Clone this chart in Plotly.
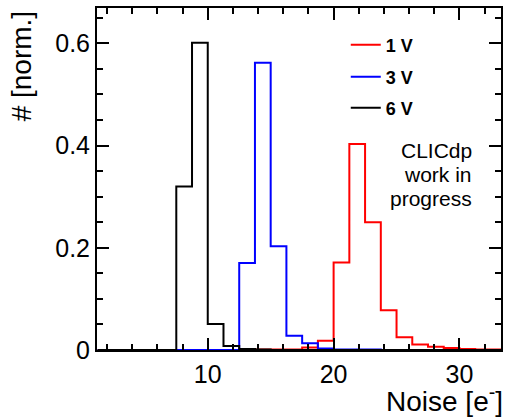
import plotly.graph_objects as go

bin_width = 1.25
bin_start = 1.25
n_bins = 26

noise_1v = [0, 0, 0, 0, 0, 0, 0, 0, 0, 0.001, 0.001, 0.001, 0.001, 0.005, 0.018,
            0.171, 0.403, 0.25, 0.078, 0.025, 0.011, 0.0065, 0.004, 0.002, 0.001, 0.001]
noise_3v = [0, 0, 0, 0, 0, 0, 0, 0, 0, 0.17, 0.562, 0.203, 0.028, 0.013, 0.003,
            0.001, 0.001, 0.001, 0, 0, 0, 0, 0, 0, 0, 0]
noise_6v = [0, 0, 0, 0, 0, 0.32, 0.601, 0.051, 0.008, 0.002, 0.001, 0, 0, 0, 0,
            0, 0, 0, 0, 0, 0, 0, 0, 0, 0, 0]

series = [("1 V", noise_1v, "#ff0000", "legend"),
          ("3 V", noise_3v, "#0000ff", "legend2"),
          ("6 V", noise_6v, "#000000", "legend3")]

label_lines = ["CLICdp", "work in", "progress"]

edges = [bin_start + bin_width * k for k in range(n_bins + 1)]

FONT = "Liberation Sans, Arial, Helvetica, sans-serif"

fig = go.Figure()
for name, vals, col, leg in series:
    fig.add_trace(go.Scatter(
        x=edges, y=list(vals) + [vals[-1]], mode="lines", name=name,
        line=dict(color=col, width=2, shape="hv"), legend=leg, showlegend=True))

W, H = 508, 417
ml, mr, mt, mb = 97, 5, 8, 67
pw = W - ml - mr
ph = H - mt - mb

def py2paper(py):
    return 1 - (py - mt) / ph

def px2paper(px):
    return (px - ml) / pw

legfont = dict(family=FONT, size=18, color="black", weight="bold")
common_leg = dict(xanchor="left", yanchor="middle", bgcolor="rgba(0,0,0,0)",
                  font=legfont, itemwidth=30, borderwidth=0)
lx = px2paper(347)

annotations = [
    dict(text="# [norm.]", textangle=-90, xref="paper", yref="paper",
         x=px2paper(22), y=py2paper(9), xanchor="center", yanchor="top",
         showarrow=False, font=dict(size=28, family=FONT)),
    dict(text="Noise [e<sup>-</sup>]", xref="paper", yref="paper",
         x=px2paper(507), y=py2paper(399), xanchor="right", yanchor="middle",
         showarrow=False, font=dict(size=28, family=FONT)),
]
for i, (t, yc) in enumerate(zip(label_lines, [150, 174, 198])):
    annotations.append(dict(text=t, xref="paper", yref="paper",
                            x=px2paper(476), y=py2paper(yc), xanchor="right",
                            yanchor="middle", showarrow=False,
                            font=dict(size=21, family=FONT)))

fig.update_layout(
    width=W, height=H,
    margin=dict(l=ml, r=mr, t=mt, b=mb),
    paper_bgcolor="white", plot_bgcolor="white",
    font=dict(family=FONT, size=25, color="black"),
    legend=dict(x=lx, y=py2paper(45), **common_leg),
    legend2=dict(x=lx, y=py2paper(77), **common_leg),
    legend3=dict(x=lx, y=py2paper(108), **common_leg),
    xaxis=dict(range=[1.2, 33.3], showgrid=False, zeroline=False,
               showline=True, linecolor="black", linewidth=2, mirror="allticks",
               ticks="inside", ticklen=12, tickwidth=1.5, tickcolor="black",
               tick0=0, dtick=10, tickfont=dict(size=25), ticklabelstandoff=1,
               minor=dict(ticks="inside", ticklen=6, tickwidth=1.5, dtick=2, tick0=0,
                          tickcolor="black", showgrid=False)),
    yaxis=dict(range=[0, 0.669], showgrid=False, zeroline=False,
               showline=True, linecolor="black", linewidth=2, mirror="allticks",
               ticks="inside", ticklen=12, tickwidth=1.5, tickcolor="black",
               tick0=0, dtick=0.2, tickfont=dict(size=25), tickformat="~g",
               minor=dict(ticks="inside", ticklen=6, tickwidth=1.5, dtick=0.05, tick0=0,
                          tickcolor="black", showgrid=False)),
    annotations=annotations,
)

fig.write_html("out.html")
